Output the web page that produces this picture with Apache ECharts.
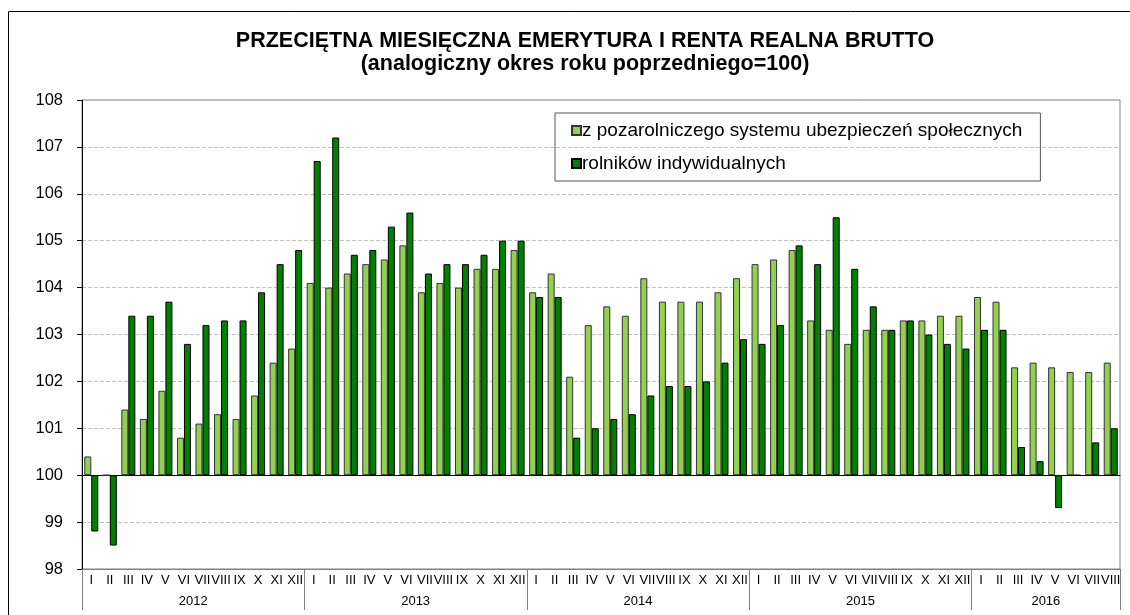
<!DOCTYPE html>
<html>
<head>
<meta charset="utf-8">
<script src="https://cdn.jsdelivr.net/npm/echarts@6/dist/echarts.min.js"></script>
<style>
  html, body { margin: 0; padding: 0; background: #fff; }
  #chart { width: 1130px; height: 615px; }
</style>
</head>
<body>
<div id="chart"></div>
<script>
// miesiace (rzymskie) i lata
const months = ['I', 'II', 'III', 'IV', 'V', 'VI', 'VII', 'VIII', 'IX', 'X', 'XI', 'XII']
const years = ['2012', '2013', '2014', '2015', '2016']
const monthsInYear = [12, 12, 12, 12, 8]

// z pozarolniczego systemu ubezpieczen spolecznych
const pozarolniczy = [
  100.4, 100.0, 101.4, 101.2, 101.8, 100.8, 101.1, 101.3, 101.2, 101.7, 102.4, 102.7,
  104.1, 104.0, 104.3, 104.5, 104.6, 104.9, 103.9, 104.1, 104.0, 104.4, 104.4, 104.8,
  103.9, 104.3, 102.1, 103.2, 103.6, 103.4, 104.2, 103.7, 103.7, 103.7, 103.9, 104.2,
  104.5, 104.6, 104.8, 103.3, 103.1, 102.8, 103.1, 103.1, 103.3, 103.3, 103.4, 103.4,
  103.8, 103.7, 102.3, 102.4, 102.3, 102.2, 102.2, 102.4
]
// rolnikow indywidualnych
const rolnicy = [
  98.8, 98.5, 103.4, 103.4, 103.7, 102.8, 103.2, 103.3, 103.3, 103.9, 104.5, 104.8,
  106.7, 107.2, 104.7, 104.8, 105.3, 105.6, 104.3, 104.5, 104.5, 104.7, 105.0, 105.0,
  103.8, 103.8, 100.8, 101.0, 101.2, 101.3, 101.7, 101.9, 101.9, 102.0, 102.4, 102.9,
  102.8, 103.2, 104.9, 104.5, 105.5, 104.4, 103.6, 103.1, 103.3, 103.0, 102.8, 102.7,
  103.1, 103.1, 100.6, 100.3, 99.3, 100.0, 100.7, 101.0
]

const base = 100

let categories = []
let yearSlots = ['']
years.forEach((y, i) => {
  for (let m = 0; m < monthsInYear[i]; m++) {
    categories.push(months[m])
    yearSlots.push('')
  }
})
// etykiety lat na srodku kazdego roku, kreski na granicach lat
let yearLabelAt = {}
let yearBorder = { 0: true }
let pos = 0
years.forEach((y, i) => {
  yearLabelAt[pos + monthsInYear[i] / 2] = y
  pos += monthsInYear[i]
  yearBorder[pos] = true
})
Object.keys(yearLabelAt).forEach(k => { yearSlots[k] = yearLabelAt[k] })

const chart = echarts.init(document.getElementById('chart'))
chart.setOption({
  animation: false,
  textStyle: { fontFamily: 'Liberation Sans, Arial, sans-serif' },
  title: {
    text: 'PRZECIĘTNA MIESIĘCZNA EMERYTURA I RENTA REALNA BRUTTO\n(analogiczny okres roku poprzedniego=100)',
    left: 580,
    textAlign: 'center',
    top: 25,
    textStyle: { fontSize: 21.5, fontWeight: 'bold', color: '#000', lineHeight: 23 }
  },
  legend: {
    orient: 'vertical',
    left: 555,
    top: 113,
    padding: [8, 18, 8, 16],
    borderColor: '#555',
    borderWidth: 1,
    icon: 'rect',
    itemWidth: 9,
    itemHeight: 9,
    itemGap: 14,
    textStyle: { fontSize: 19, color: '#000', padding: [0, 0, 0, -4] },
    data: ['z pozarolniczego systemu ubezpieczeń społecznych', 'rolników indywidualnych']
  },
  graphic: [{
    type: 'rect',
    shape: { x: 8.5, y: 11.5, width: 1140, height: 620 },
    style: { fill: 'none', stroke: '#000', lineWidth: 1 },
    silent: true
  }],
  grid: {
    left: 82,
    right: 10,
    top: 100,
    bottom: 46,
    show: true,
    borderColor: '#808080',
    borderWidth: 1
  },
  xAxis: [
    {
      type: 'category',
      data: categories,
      position: 'bottom',
      axisLine: { onZero: false, lineStyle: { color: '#808080' } },
      axisTick: { interval: 0, length: 20, lineStyle: { color: '#808080' } },
      axisLabel: { interval: 0, hideOverlap: false, fontSize: 13, color: '#000', margin: 5 },
      splitLine: { show: false }
    },
    {
      type: 'category',
      data: yearSlots,
      boundaryGap: false,
      position: 'bottom',
      axisLine: { show: false, onZero: false },
      axisTick: { interval: (i) => !!yearBorder[i], length: 41, lineStyle: { color: '#808080' } },
      axisLabel: { interval: (i, v) => v !== '', hideOverlap: false, fontSize: 13, color: '#000', margin: 26 },
      splitLine: { show: false }
    },
    {
      type: 'category',
      data: categories,
      axisLine: { onZero: true, lineStyle: { color: '#000' } },
      axisTick: { interval: 0, length: 3, lineStyle: { color: '#000' } },
      axisLabel: { show: false },
      splitLine: { show: false }
    }
  ],
  yAxis: {
    type: 'value',
    min: -2,
    max: 8,
    interval: 1,
    axisLine: { show: true, lineStyle: { color: '#000' } },
    axisTick: { show: true, length: 5, lineStyle: { color: '#000' } },
    axisLabel: { fontSize: 16.5, color: '#000', margin: 19, formatter: v => String(v + base) },
    splitLine: { lineStyle: { color: '#c0c0c0', type: 'dashed' } }
  },
  series: [
    {
      name: 'z pozarolniczego systemu ubezpieczeń społecznych',
      type: 'bar',
      xAxisIndex: 0,
      barWidth: 7,
      barGap: '0%',
      itemStyle: { color: '#92D050', borderColor: '#333', borderWidth: 1 },
      data: pozarolniczy.map(v => +(v - base).toFixed(1))
    },
    {
      name: 'rolników indywidualnych',
      type: 'bar',
      xAxisIndex: 0,
      barWidth: 7,
      barGap: '0%',
      itemStyle: { color: '#008000', borderColor: '#000', borderWidth: 1 },
      data: rolnicy.map(v => +(v - base).toFixed(1))
    }
  ]
})
</script>
</body>
</html>
